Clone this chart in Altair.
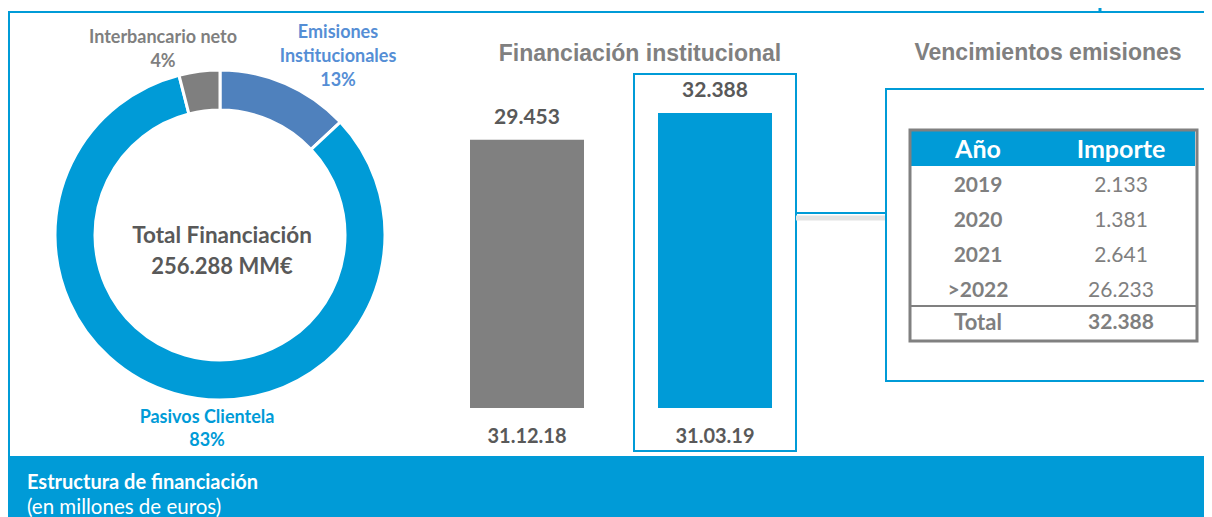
import altair as alt
import pandas as pd

# ---------------- data ----------------
donut_cats = ["Emisiones Institucionales", "Pasivos Clientela", "Interbancario neto"]
donut_shares = [13, 83, 4]
donut_colors = ["#4f81bd", "#009bd7", "#7f7f7f"]
total_lines = ["Total Financiación", "256.288 MM€"]

bar_dates = ["31.12.18", "31.03.19"]
bar_values = [29453, 32388]
bar_colors = ["#808080", "#009bd7"]

table_years = ["2019", "2020", "2021", ">2022"]
table_amounts = [2133, 1381, 2641, 26233]
table_total = 32388

titles = ["Financiación institucional", "Vencimientos emisiones"]
footer = ["Estructura de financiación", "(en millones de euros)"]


def fmt(v):
    return f"{v:,}".replace(",", ".")


BLUE = "#009bd7"
GRAY_TXT = "#7f7f7f"
DARK = "#595959"
LFONT = "Lato"
AFONT = "Liberation Sans"

dummy = alt.Chart(pd.DataFrame({"k": [0]}))


def hrule(x, x2, y, color=BLUE, w=2):
    return dummy.mark_rule(color=color, strokeWidth=w).encode(
        x=alt.value(x), x2=alt.value(x2), y=alt.value(y))


def vrule(x, y, y2, color=BLUE, w=2):
    return dummy.mark_rule(color=color, strokeWidth=w).encode(
        x=alt.value(x), y=alt.value(y), y2=alt.value(y2))


def rect(x, x2, y, y2, fill=None, stroke=None, w=2):
    kw = {}
    if fill is not None:
        kw["fill"] = fill
    else:
        kw["fillOpacity"] = 0
    if stroke is not None:
        kw["stroke"] = stroke
        kw["strokeWidth"] = w
    return dummy.mark_rect(**kw).encode(
        x=alt.value(x), x2=alt.value(x2), y=alt.value(y), y2=alt.value(y2))


def label(x, y, text, size=18, color=GRAY_TXT, weight="bold", font=LFONT, align="center"):
    return dummy.mark_text(fontSize=size, color=color, fontWeight=weight, font=font,
                           align=align, baseline="middle").encode(
        x=alt.value(x), y=alt.value(y), text=alt.value(text))


layers = []

# footer band
layers.append(rect(0, 1220, 448, 520, fill=BLUE))
layers.append(label(19, 475, footer[0], size=20, color="white", weight="bold", align="left"))
layers.append(label(19, 500, footer[1], size=20.5, color="white", weight="normal", align="left"))

# outer frame lines
layers.append(hrule(0, 1220, 4))
layers.append(vrule(1, 4, 448))
layers.append(vrule(1092, 0, 4, w=3))

# ---------------- donut ----------------
donut_df = pd.DataFrame({"cat": donut_cats, "share": donut_shares,
                         "orden": list(range(len(donut_cats)))})
donut = alt.Chart(donut_df).mark_arc(radius=165, radius2=125, stroke="white",
                                     strokeWidth=3).encode(
    theta=alt.Theta("share:Q", stack=True),
    order=alt.Order("orden:Q"),
    color=alt.Color("cat:N", scale=alt.Scale(domain=donut_cats, range=donut_colors),
                    legend=None),
    x=alt.value(212), y=alt.value(227),
)
layers.append(donut)

layers.append(label(155, 30, "Interbancario neto", color=GRAY_TXT))
layers.append(label(155, 54, f"{donut_shares[2]}%", color=GRAY_TXT))
layers.append(label(330, 25, "Emisiones", color="#558ed5"))
layers.append(label(330, 49, "Institucionales", color="#558ed5"))
layers.append(label(330, 73, f"{donut_shares[0]}%", color="#558ed5"))
layers.append(label(199, 410, "Pasivos Clientela", color=BLUE))
layers.append(label(199, 433, f"{donut_shares[1]}%", color=BLUE))
layers.append(label(214, 228, total_lines[0], size=22.5, color=DARK))
layers.append(label(214, 259, total_lines[1], size=22, color=DARK))

# ---------------- bars ----------------
layers.append(label(632, 46, titles[0], size=23, color="#808080", font=AFONT))
layers.append(rect(626, 788, 66, 443, stroke=BLUE, w=2))

bar_df = pd.DataFrame({"fecha": bar_dates, "valor": bar_values,
                       "txt": [fmt(v) for v in bar_values]})
xs = alt.Scale(domain=bar_dates, range=[425, 801], paddingInner=0.3936, paddingOuter=0.1968)
ys = alt.Scale(domain=[0, max(bar_values)], range=[400, 105], nice=False, zero=True)
bars_base = alt.Chart(bar_df)
bars = bars_base.mark_bar().encode(
    x=alt.X("fecha:N", scale=xs, axis=None, sort=bar_dates),
    y=alt.Y("valor:Q", scale=ys, axis=None),
    color=alt.Color("fecha:N", scale=alt.Scale(domain=bar_dates, range=bar_colors),
                    legend=None),
)
vals = bars_base.mark_text(fontSize=21, fontWeight="bold", color=DARK, font=LFONT,
                           baseline="middle", dy=-22).encode(
    x=alt.X("fecha:N", scale=xs, axis=None, sort=bar_dates),
    y=alt.Y("valor:Q", scale=ys, axis=None),
    text="txt:N",
)
cats = bars_base.mark_text(fontSize=20, fontWeight="bold", color=DARK, font=LFONT,
                           baseline="middle").encode(
    x=alt.X("fecha:N", scale=xs, axis=None, sort=bar_dates),
    y=alt.value(429),
    text="fecha:N",
)
layers.append(alt.layer(bars, vals, cats))

# ---------------- table ----------------
layers.append(label(1040, 45, titles[1], size=23, color="#808080", font=AFONT))
layers.append(hrule(788, 878, 210, color="#e3e3e3", w=5))
layers.append(hrule(788, 878, 205))
layers.append(rect(878, 1230, 81, 373, fill="white", stroke=BLUE, w=2))

layers.append(rect(903, 1187, 123, 158, fill=BLUE))
layers.append(rect(902, 1189, 122, 333, stroke="#808080", w=3))
layers.append(hrule(902, 1189, 298, color="#808080", w=2))
layers.append(label(970, 142, "Año", size=25, color="white"))
layers.append(label(1113, 142, "Importe", size=25, color="white"))

tab_df = pd.DataFrame({"anio": table_years, "imp": [fmt(v) for v in table_amounts]})
ty = alt.Scale(type="point", domain=table_years, range=[178, 283], padding=0)
tbase = alt.Chart(tab_df)
col1 = tbase.mark_text(fontSize=21, fontWeight="bold", color=GRAY_TXT, font=LFONT,
                       baseline="middle").encode(
    x=alt.value(970), y=alt.Y("anio:N", scale=ty, axis=None, sort=table_years),
    text="anio:N")
col2 = tbase.mark_text(fontSize=21, fontWeight="normal", color=GRAY_TXT, font=LFONT,
                       baseline="middle").encode(
    x=alt.value(1113), y=alt.Y("anio:N", scale=ty, axis=None, sort=table_years),
    text="imp:N")
layers.append(alt.layer(col1, col2))
layers.append(label(970, 315, "Total", size=22, color=GRAY_TXT))
layers.append(label(1113, 315, fmt(table_total), size=21, color=GRAY_TXT))

chart = alt.layer(*layers).resolve_scale(
    x="independent", y="independent", color="independent", theta="independent"
).properties(
    width=1196, height=509, padding=0, autosize=alt.AutoSizeParams(type="none")
).configure_view(strokeWidth=0)

chart.save("out.html", embed_options={"renderer": "svg", "actions": False})
